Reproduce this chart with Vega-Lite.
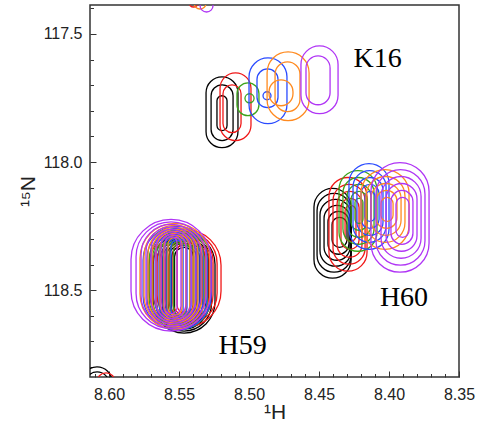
{
  "$schema": "https://vega.github.io/schema/vega-lite/v6.json",
  "autosize": "none",
  "width": 369,
  "height": 372,
  "padding": {"left": 90, "top": 5, "right": 32, "bottom": 46},
  "background": "white",
  "config": {
    "view": {"stroke": "#333333", "strokeWidth": 1.5},
    "axis": {
      "grid": false,
      "domain": false,
      "labelFont": "Liberation Sans",
      "labelFontSize": 16,
      "labelColor": "#222222",
      "titleFont": "Liberation Sans",
      "titleFontSize": 21,
      "titleFontWeight": "normal",
      "titleColor": "#222222",
      "tickColor": "#333333",
      "tickWidth": 1,
      "labelOverlap": false,
      "labelFlush": false
    }
  },
  "datasets": {
    "rings": [
      {"p": "K16", "s": "1", "h1": 8.5307, "h2": 8.5079, "n1": 117.6673, "n2": 117.9436},
      {"p": "K16", "s": "1", "h1": 8.5271, "h2": 8.5114, "n1": 117.6984, "n2": 117.9163},
      {"p": "K16", "s": "1", "h1": 8.5229, "h2": 8.5157, "n1": 117.7412, "n2": 117.8774},
      {"p": "K16", "s": "2", "h1": 8.5207, "h2": 8.4986, "n1": 117.6518, "n2": 117.9163},
      {"p": "K16", "s": "2", "h1": 8.5186, "h2": 8.5057, "n1": 117.6984, "n2": 117.8852},
      {"p": "K16", "s": "3", "h1": 8.5086, "h2": 8.4929, "n1": 117.6907, "n2": 117.8191},
      {"p": "K16", "s": "3", "h1": 8.5029, "h2": 8.4964, "n1": 117.7335, "n2": 117.7685},
      {"p": "K16", "s": "4", "h1": 8.5000, "h2": 8.4729, "n1": 117.5934, "n2": 117.8502},
      {"p": "K16", "s": "4", "h1": 8.4943, "h2": 8.4793, "n1": 117.6362, "n2": 117.7879},
      {"p": "K16", "s": "4", "h1": 8.4900, "h2": 8.4843, "n1": 117.7257, "n2": 117.7568},
      {"p": "K16", "s": "5", "h1": 8.4871, "h2": 8.4571, "n1": 117.5700, "n2": 117.8385},
      {"p": "K16", "s": "5", "h1": 8.4814, "h2": 8.4636, "n1": 117.6089, "n2": 117.8035},
      {"p": "K16", "s": "5", "h1": 8.4857, "h2": 8.4686, "n1": 117.6790, "n2": 117.7802},
      {"p": "K16", "s": "6", "h1": 8.4629, "h2": 8.4364, "n1": 117.5467, "n2": 117.8113},
      {"p": "K16", "s": "6", "h1": 8.4593, "h2": 8.4421, "n1": 117.5856, "n2": 117.7763},

      {"p": "H60", "s": "1", "h1": 8.4536, "h2": 8.4271, "n1": 118.1031, "n2": 118.4533},
      {"p": "H60", "s": "1", "h1": 8.4514, "h2": 8.4271, "n1": 118.1226, "n2": 118.4300},
      {"p": "H60", "s": "1", "h1": 8.4493, "h2": 8.4271, "n1": 118.1459, "n2": 118.4066},
      {"p": "H60", "s": "1", "h1": 8.4464, "h2": 8.4279, "n1": 118.1693, "n2": 118.3833},
      {"p": "H60", "s": "1", "h1": 8.4436, "h2": 8.4286, "n1": 118.1926, "n2": 118.3599},
      {"p": "H60", "s": "1", "h1": 8.4407, "h2": 8.4300, "n1": 118.2160, "n2": 118.3327},
      {"p": "H60", "s": "2", "h1": 8.4429, "h2": 8.4157, "n1": 118.0603, "n2": 118.4261},
      {"p": "H60", "s": "2", "h1": 8.4400, "h2": 8.4171, "n1": 118.0875, "n2": 118.3988},
      {"p": "H60", "s": "2", "h1": 8.4371, "h2": 8.4193, "n1": 118.1148, "n2": 118.3716},
      {"p": "H60", "s": "2", "h1": 8.4343, "h2": 8.4214, "n1": 118.1420, "n2": 118.3405},
      {"p": "H60", "s": "2", "h1": 8.4314, "h2": 8.4236, "n1": 118.1693, "n2": 118.3093},
      {"p": "H60", "s": "3", "h1": 8.4357, "h2": 8.4086, "n1": 118.0331, "n2": 118.3482},
      {"p": "H60", "s": "3", "h1": 8.4329, "h2": 8.4107, "n1": 118.0603, "n2": 118.3210},
      {"p": "H60", "s": "3", "h1": 8.4300, "h2": 8.4129, "n1": 118.0875, "n2": 118.2938},
      {"p": "H60", "s": "3", "h1": 8.4271, "h2": 8.4157, "n1": 118.1148, "n2": 118.2665},
      {"p": "H60", "s": "3", "h1": 8.4243, "h2": 8.4186, "n1": 118.1420, "n2": 118.2393},
      {"p": "H60", "s": "4", "h1": 8.4286, "h2": 8.4000, "n1": 118.0058, "n2": 118.3405},
      {"p": "H60", "s": "4", "h1": 8.4257, "h2": 8.4021, "n1": 118.0331, "n2": 118.3132},
      {"p": "H60", "s": "4", "h1": 8.4229, "h2": 8.4043, "n1": 118.0603, "n2": 118.2860},
      {"p": "H60", "s": "4", "h1": 8.4200, "h2": 8.4071, "n1": 118.0875, "n2": 118.2588},
      {"p": "H60", "s": "4", "h1": 8.4171, "h2": 8.4100, "n1": 118.1148, "n2": 118.2315},
      {"p": "H60", "s": "5", "h1": 8.4200, "h2": 8.3857, "n1": 118.0292, "n2": 118.3405},
      {"p": "H60", "s": "5", "h1": 8.4164, "h2": 8.3886, "n1": 118.0564, "n2": 118.3132},
      {"p": "H60", "s": "5", "h1": 8.4129, "h2": 8.3914, "n1": 118.0837, "n2": 118.2860},
      {"p": "H60", "s": "5", "h1": 8.4093, "h2": 8.3943, "n1": 118.1109, "n2": 118.2588},
      {"p": "H60", "s": "5", "h1": 8.4057, "h2": 8.3971, "n1": 118.1381, "n2": 118.2315},
      {"p": "H60", "s": "6", "h1": 8.4129, "h2": 8.3714, "n1": 118.0019, "n2": 118.4300},
      {"p": "H60", "s": "6", "h1": 8.4093, "h2": 8.3743, "n1": 118.0292, "n2": 118.4027},
      {"p": "H60", "s": "6", "h1": 8.4057, "h2": 8.3771, "n1": 118.0564, "n2": 118.3755},
      {"p": "H60", "s": "6", "h1": 8.4021, "h2": 8.3800, "n1": 118.0837, "n2": 118.3482},
      {"p": "H60", "s": "6", "h1": 8.3986, "h2": 8.3829, "n1": 118.1109, "n2": 118.3210},
      {"p": "H60", "s": "6", "h1": 8.3950, "h2": 8.3857, "n1": 118.1381, "n2": 118.2938},

      {"p": "H59", "s": "1", "h1": 8.5685, "h2": 8.5243, "n1": 118.2783, "n2": 118.6674},
      {"p": "H59", "s": "1", "h1": 8.5660, "h2": 8.5268, "n1": 118.2860, "n2": 118.6596},
      {"p": "H59", "s": "1", "h1": 8.5639, "h2": 8.5289, "n1": 118.2938, "n2": 118.6518},
      {"p": "H59", "s": "1", "h1": 8.5618, "h2": 8.5310, "n1": 118.3016, "n2": 118.6440},
      {"p": "H59", "s": "1", "h1": 8.5596, "h2": 8.5332, "n1": 118.3094, "n2": 118.6362},
      {"p": "H59", "s": "1", "h1": 8.5575, "h2": 8.5353, "n1": 118.3172, "n2": 118.6284},
      {"p": "H59", "s": "1", "h1": 8.5553, "h2": 8.5375, "n1": 118.3249, "n2": 118.6207},
      {"p": "H59", "s": "1", "h1": 8.5532, "h2": 8.5396, "n1": 118.3327, "n2": 118.6129},
      {"p": "H59", "s": "2", "h1": 8.5714, "h2": 8.5200, "n1": 118.2626, "n2": 118.6440},
      {"p": "H59", "s": "2", "h1": 8.5686, "h2": 8.5228, "n1": 118.2704, "n2": 118.6362},
      {"p": "H59", "s": "2", "h1": 8.5657, "h2": 8.5257, "n1": 118.2782, "n2": 118.6284},
      {"p": "H59", "s": "2", "h1": 8.5628, "h2": 8.5286, "n1": 118.2860, "n2": 118.6206},
      {"p": "H59", "s": "2", "h1": 8.5600, "h2": 8.5314, "n1": 118.2938, "n2": 118.6128},
      {"p": "H59", "s": "2", "h1": 8.5571, "h2": 8.5343, "n1": 118.3016, "n2": 118.6051},
      {"p": "H59", "s": "2", "h1": 8.5543, "h2": 8.5371, "n1": 118.3093, "n2": 118.5973},
      {"p": "H59", "s": "2", "h1": 8.5514, "h2": 8.5400, "n1": 118.3171, "n2": 118.5895},
      {"p": "H59", "s": "3", "h1": 8.5714, "h2": 8.5272, "n1": 118.2626, "n2": 118.6518},
      {"p": "H59", "s": "3", "h1": 8.5689, "h2": 8.5297, "n1": 118.2704, "n2": 118.6440},
      {"p": "H59", "s": "3", "h1": 8.5664, "h2": 8.5322, "n1": 118.2782, "n2": 118.6362},
      {"p": "H59", "s": "3", "h1": 8.5639, "h2": 8.5347, "n1": 118.2860, "n2": 118.6284},
      {"p": "H59", "s": "3", "h1": 8.5614, "h2": 8.5372, "n1": 118.2938, "n2": 118.6206},
      {"p": "H59", "s": "3", "h1": 8.5589, "h2": 8.5397, "n1": 118.3016, "n2": 118.6128},
      {"p": "H59", "s": "3", "h1": 8.5564, "h2": 8.5422, "n1": 118.3093, "n2": 118.6051},
      {"p": "H59", "s": "3", "h1": 8.5539, "h2": 8.5447, "n1": 118.3171, "n2": 118.5973},
      {"p": "H59", "s": "4", "h1": 8.5757, "h2": 8.5271, "n1": 118.2510, "n2": 118.6556},
      {"p": "H59", "s": "4", "h1": 8.5728, "h2": 8.5300, "n1": 118.2588, "n2": 118.6479},
      {"p": "H59", "s": "4", "h1": 8.5700, "h2": 8.5328, "n1": 118.2665, "n2": 118.6401},
      {"p": "H59", "s": "4", "h1": 8.5671, "h2": 8.5357, "n1": 118.2743, "n2": 118.6323},
      {"p": "H59", "s": "4", "h1": 8.5643, "h2": 8.5385, "n1": 118.2821, "n2": 118.6245},
      {"p": "H59", "s": "4", "h1": 8.5614, "h2": 8.5414, "n1": 118.2899, "n2": 118.6167},
      {"p": "H59", "s": "4", "h1": 8.5585, "h2": 8.5443, "n1": 118.2977, "n2": 118.6089},
      {"p": "H59", "s": "4", "h1": 8.5557, "h2": 8.5471, "n1": 118.3054, "n2": 118.6012},
      {"p": "H59", "s": "5", "h1": 8.5779, "h2": 8.5279, "n1": 118.2393, "n2": 118.6517},
      {"p": "H59", "s": "5", "h1": 8.5750, "h2": 8.5308, "n1": 118.2471, "n2": 118.6439},
      {"p": "H59", "s": "5", "h1": 8.5722, "h2": 8.5336, "n1": 118.2548, "n2": 118.6362},
      {"p": "H59", "s": "5", "h1": 8.5693, "h2": 8.5365, "n1": 118.2626, "n2": 118.6284},
      {"p": "H59", "s": "5", "h1": 8.5665, "h2": 8.5393, "n1": 118.2704, "n2": 118.6206},
      {"p": "H59", "s": "5", "h1": 8.5636, "h2": 8.5422, "n1": 118.2782, "n2": 118.6128},
      {"p": "H59", "s": "5", "h1": 8.5608, "h2": 8.5450, "n1": 118.2860, "n2": 118.6050},
      {"p": "H59", "s": "5", "h1": 8.5579, "h2": 8.5479, "n1": 118.2938, "n2": 118.5973},
      {"p": "H59", "s": "6", "h1": 8.5843, "h2": 8.5271, "n1": 118.2237, "n2": 118.6595},
      {"p": "H59", "s": "6", "h1": 8.5807, "h2": 8.5307, "n1": 118.2334, "n2": 118.6498},
      {"p": "H59", "s": "6", "h1": 8.5771, "h2": 8.5343, "n1": 118.2432, "n2": 118.6400},
      {"p": "H59", "s": "6", "h1": 8.5736, "h2": 8.5378, "n1": 118.2529, "n2": 118.6303},
      {"p": "H59", "s": "6", "h1": 8.5700, "h2": 8.5414, "n1": 118.2626, "n2": 118.6206},
      {"p": "H59", "s": "6", "h1": 8.5664, "h2": 8.5450, "n1": 118.2723, "n2": 118.6109},
      {"p": "H59", "s": "6", "h1": 8.5628, "h2": 8.5486, "n1": 118.2821, "n2": 118.6011},
      {"p": "H59", "s": "6", "h1": 8.5600, "h2": 8.5514, "n1": 118.2918, "n2": 118.5914},

      {"p": "top", "s": "2", "h1": 8.5429, "h2": 8.5364, "n1": 117.2704, "n2": 117.3949},
      {"p": "top", "s": "5", "h1": 8.5393, "h2": 8.5307, "n1": 117.2704, "n2": 117.4027},
      {"p": "top", "s": "6", "h1": 8.5350, "h2": 8.5257, "n1": 117.2704, "n2": 117.4144},
      {"p": "corner", "s": "1", "h1": 8.6193, "h2": 8.5979, "n1": 118.7996, "n2": 119.0019},
      {"p": "corner", "s": "1", "h1": 8.6171, "h2": 8.6000, "n1": 118.8191, "n2": 119.0019},
      {"p": "corner", "s": "2", "h1": 8.6086, "h2": 8.5957, "n1": 118.8230, "n2": 119.0019}
    ],
    "labels": [
      {"name": "K16", "H": 8.4082, "N": 117.6284},
      {"name": "H60", "H": 8.3893, "N": 118.5623},
      {"name": "H59", "H": 8.5046, "N": 118.749}
    ]
  },
  "layer": [
    {
      "data": {"name": "rings"},
      "mark": {"type": "rect", "filled": false, "strokeWidth": 1.3, "cornerRadius": 400, "clip": true},
      "encoding": {
        "x": {
          "field": "h1",
          "type": "quantitative",
          "scale": {"domain": [8.35, 8.6136], "reverse": true, "nice": false, "zero": false},
          "axis": {
            "orient": "bottom",
            "title": "¹H",
            "titleBaseline": "alphabetic",
            "titleY": 41,
            "tickCount": 100,
            "values": [8.35, 8.36, 8.37, 8.38, 8.39, 8.4, 8.41, 8.42, 8.43, 8.44, 8.45, 8.46, 8.47, 8.48, 8.49, 8.5, 8.51, 8.52, 8.53, 8.54, 8.55, 8.56, 8.57, 8.58, 8.59, 8.6, 8.61],
            "labelExpr": "abs(datum.value * 20 - round(datum.value * 20)) < 0.001 ? format(datum.value, '.2f') : ''",
            "labelOverlap": false,
            "labelFlush": false,
            "labelBound": false,
            "tickSize": {"condition": {"test": "abs(datum.value * 20 - round(datum.value * 20)) < 0.001", "value": -6}, "value": -3.5},
            "labelPadding": 15
          }
        },
        "x2": {"field": "h2"},
        "y": {
          "field": "n1",
          "type": "quantitative",
          "scale": {"domain": [117.387, 118.839], "reverse": true, "nice": false, "zero": false},
          "axis": {
            "orient": "left",
            "title": "¹⁵N",
            "titleBaseline": "alphabetic",
            "titleX": -56,
            "tickCount": 100,
            "values": [117.4, 117.5, 117.6, 117.7, 117.8, 117.9, 118.0, 118.1, 118.2, 118.3, 118.4, 118.5, 118.6, 118.7, 118.8],
            "labelExpr": "abs(datum.value * 2 - round(datum.value * 2)) < 0.001 ? format(datum.value, '.1f') : ''",
            "labelOverlap": false,
            "labelFlush": false,
            "labelBound": false,
            "tickSize": {"condition": {"test": "abs(datum.value * 2 - round(datum.value * 2)) < 0.001", "value": -6}, "value": -3.5},
            "labelPadding": 14
          }
        },
        "y2": {"field": "n2"},
        "color": {
          "field": "s",
          "type": "nominal",
          "scale": {"domain": ["1", "2", "3", "4", "5", "6"], "range": ["#000000", "#f01818", "#3ca31c", "#2a4bff", "#ff8a1f", "#b035f5"]},
          "legend": null
        }
      }
    },
    {
      "data": {"name": "labels"},
      "mark": {"type": "text", "font": "Liberation Serif", "fontSize": 28, "align": "center", "baseline": "alphabetic", "color": "#000000"},
      "encoding": {
        "x": {"field": "H", "type": "quantitative"},
        "y": {"field": "N", "type": "quantitative"},
        "text": {"field": "name"}
      }
    }
  ]
}
